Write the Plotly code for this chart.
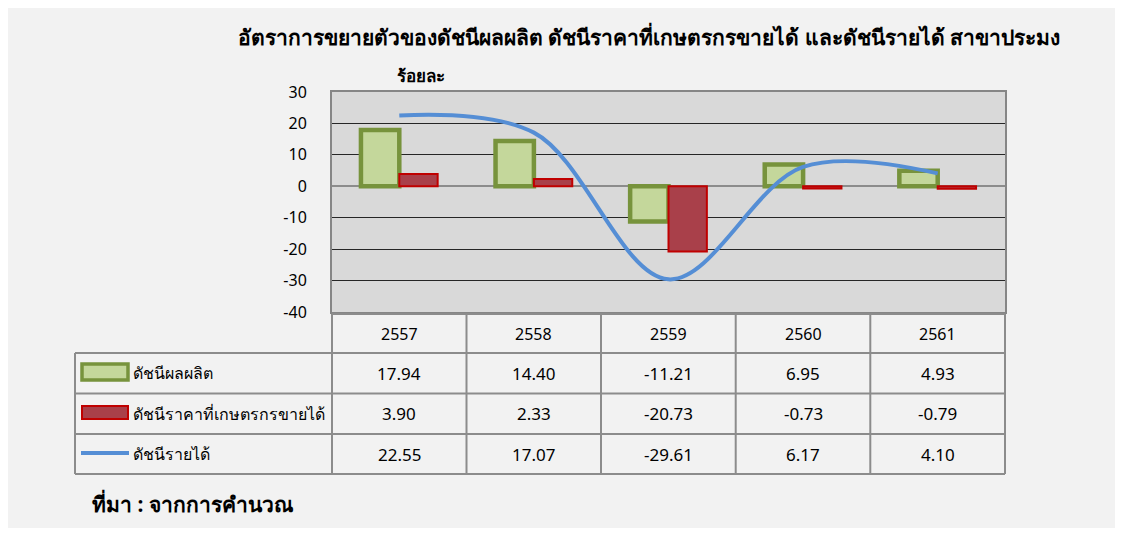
import plotly.graph_objects as go

# data
years = ["2557", "2558", "2559", "2560", "2561"]
production = [17.94, 14.40, -11.21, 6.95, 4.93]
farm_price = [3.90, 2.33, -20.73, -0.73, -0.79]
income = [22.55, 17.07, -29.61, 6.17, 4.10]
series_names = ["ดัชนีผลผลิต", "ดัชนีราคาที่เกษตรกรขายได้", "ดัชนีรายได้"]
y_ticks = [-40, -30, -20, -10, 0, 10, 20, 30]

title_text = "อัตราการขยายตัวของดัชนีผลผลิต ดัชนีราคาที่เกษตรกรขายได้ และดัชนีรายได้ สาขาประมง"
unit_text = "ร้อยละ"
source_text = "ที่มา : จากการคำนวณ"

# the page body adds an 8px white margin, so the figure is the gray panel
OFF = 8
W, H = 1107, 520
FONT = "Tahoma, 'Noto Sans', sans-serif"
GREEN_FILL, GREEN_LINE = "#c4d79b", "#77933c"
RED_FILL, RED_LINE = "#a9404a", "#c00000"
BLUE = "#558ed5"
GRID_LINE = "#8c8c8c"


def px(x):
    return (x - OFF) / W


def py(y):
    return 1 - (y - OFF) / H


plot_l, plot_r, plot_t, plot_b = 332, 1005, 92, 312

fig = go.Figure()
fig.add_trace(go.Bar(
    x=years, y=production, name=series_names[0],
    marker=dict(color=GREEN_FILL, line=dict(color=GREEN_LINE, width=4.5)),
))
fig.add_trace(go.Bar(
    x=years, y=farm_price, name=series_names[1],
    marker=dict(color=RED_FILL, line=dict(color=RED_LINE, width=2)),
))
fig.add_trace(go.Scatter(
    x=years, y=income, name=series_names[2], mode="lines",
    line=dict(color=BLUE, width=4, shape="spline", smoothing=1.0),
))

shapes = []
# data table grid
col_x = [332, 466.5, 601, 735.7, 870.3, 1005]
row_y = [314, 353, 393.5, 434, 474]
tl = dict(color=GRID_LINE, width=2)
shapes.append(dict(type="line", xref="paper", yref="paper",
                   x0=px(332), x1=px(1005), y0=py(314), y1=py(314), line=tl))
for y in row_y[1:]:
    shapes.append(dict(type="line", xref="paper", yref="paper",
                       x0=px(75), x1=px(1005), y0=py(y), y1=py(y), line=tl))
shapes.append(dict(type="line", xref="paper", yref="paper",
                   x0=px(75), x1=px(75), y0=py(353), y1=py(474), line=tl))
for x in col_x:
    shapes.append(dict(type="line", xref="paper", yref="paper",
                       x0=px(x), x1=px(x), y0=py(314), y1=py(474), line=tl))

# legend keys in the table
shapes.append(dict(type="rect", xref="paper", yref="paper",
                   x0=px(82), x1=px(128), y0=py(380), y1=py(364),
                   fillcolor=GREEN_FILL, line=dict(color=GREEN_LINE, width=3.5)))
shapes.append(dict(type="rect", xref="paper", yref="paper",
                   x0=px(82), x1=px(128), y0=py(419), y1=py(406),
                   fillcolor=RED_FILL, line=dict(color=RED_LINE, width=2)))
shapes.append(dict(type="line", xref="paper", yref="paper",
                   x0=px(81), x1=px(129), y0=py(453), y1=py(453),
                   line=dict(color=BLUE, width=4)))

annotations = [
    dict(text="<b>" + title_text + "</b>", xref="paper", yref="paper",
         x=px(649), y=py(36), yanchor="middle", showarrow=False, font=dict(size=21)),
    dict(text="<b>" + unit_text + "</b>", xref="paper", yref="paper",
         x=px(421), y=py(76), yanchor="middle", showarrow=False, font=dict(size=17)),
    dict(text="<b>" + source_text + "</b>", xref="paper", yref="paper",
         x=px(90), y=py(503), xanchor="left", yanchor="middle", showarrow=False,
         font=dict(size=21)),
]

# table cells: x uses the category index on the x axis
row_centers = [(row_y[i] + row_y[i + 1]) / 2 for i in range(len(row_y) - 1)]
for i, yr in enumerate(years):
    annotations.append(dict(text=yr, xref="x", yref="paper", x=i, y=py(row_centers[0]),
                            yanchor="middle", showarrow=False, font=dict(size=16)))
for r, vals in enumerate([production, farm_price, income]):
    yc = py(row_centers[r + 1])
    annotations.append(dict(text=series_names[r], xref="paper", yref="paper",
                            x=px(131), y=yc, xanchor="left", yanchor="middle",
                            showarrow=False, font=dict(size=16)))
    for i, v in enumerate(vals):
        annotations.append(dict(text=f"{v:.2f}", xref="x", yref="paper", x=i, y=yc,
                                yanchor="middle", showarrow=False, font=dict(size=17)))

fig.update_layout(
    width=W, height=H,
    margin=dict(l=0, r=0, t=0, b=0, autoexpand=False),
    paper_bgcolor="#f2f2f2",
    plot_bgcolor="#d9d9d9",
    font=dict(family=FONT, color="black"),
    showlegend=False,
    barmode="group", bargap=0.43, bargroupgap=0,
    shapes=shapes,
    annotations=annotations,
    xaxis=dict(type="category", range=[-0.5, len(years) - 0.5],
               domain=[px(plot_l), px(plot_r)], showticklabels=False,
               showgrid=False, showline=True, mirror=True,
               linecolor="#868686", linewidth=2, fixedrange=True),
    yaxis=dict(domain=[py(plot_b), py(plot_t)], range=[-40, 30],
               tickvals=y_ticks, ticktext=[str(v) for v in y_ticks],
               showgrid=True, gridcolor="#262626", gridwidth=1,
               zeroline=True, zerolinecolor="#8c8c8c", zerolinewidth=2,
               showline=True, mirror=True, linecolor="#868686", linewidth=2,
               tickfont=dict(size=16), ticklabelstandoff=20, fixedrange=True),
)

fig.write_html("out.html")
